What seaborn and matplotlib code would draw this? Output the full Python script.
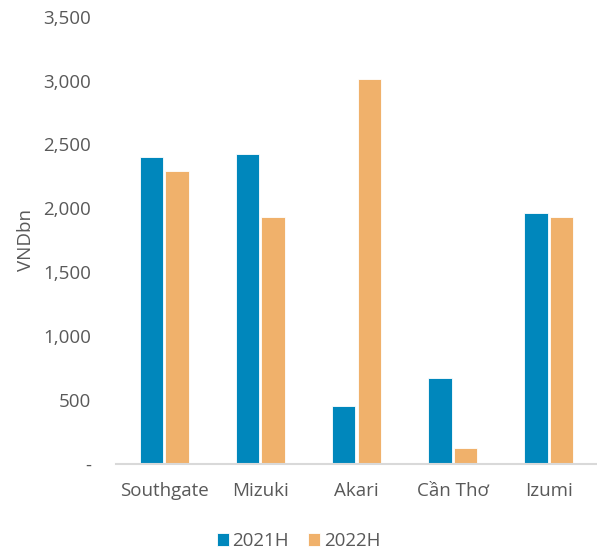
import pandas as pd
import matplotlib.pyplot as plt
import seaborn as sns
from matplotlib.ticker import FuncFormatter

projects = ['Southgate', 'Mizuki', 'Akari', 'Cần Thơ', 'Izumi']
h2021 = [2400, 2425, 455, 670, 1965]
h2022 = [2290, 1935, 3010, 125, 1935]
series = ['2021H', '2022H']
colors = ['#0087BC', '#F0B16B']

df = pd.DataFrame({
    'project': projects * 2,
    'value': h2021 + h2022,
    'period': [series[0]] * len(projects) + [series[1]] * len(projects),
})

sns.set_style('white')
plt.rcParams['font.family'] = ['Open Sans', 'DejaVu Sans']
fs = 13.5
txt = '#595959'

fig = plt.figure(figsize=(5.97, 5.49), dpi=100)
ax = fig.add_axes([0.1943, 0.1548, 0.8057, 0.8148])

sns.barplot(data=df, x='project', y='value', hue='period', palette=colors,
            width=0.53, gap=0.08, ax=ax, saturation=1,
            edgecolor='white', linewidth=0.6)

ax.set_xlim(-0.5, 4.5)
ax.set_ylim(0, 3500)
ax.set_yticks(range(0, 3501, 500))
ax.yaxis.set_major_formatter(FuncFormatter(lambda v, p: '-' if v == 0 else f'{int(v):,}'))

ax.set_xlabel('')
ax.set_ylabel('VNDbn', fontsize=fs, color=txt, labelpad=6)
ax.tick_params(axis='y', length=0, pad=18, labelsize=fs, labelcolor=txt)
ax.tick_params(axis='x', length=0, pad=13, labelsize=fs, labelcolor=txt)

for s in ['top', 'right', 'left']:
    ax.spines[s].set_visible(False)
ax.spines['bottom'].set_color('#D9D9D9')
ax.spines['bottom'].set_linewidth(1.5)

ax.legend_.remove()
handles, labels = ax.get_legend_handles_labels()
fig.legend(handles, labels, loc='center', bbox_to_anchor=(0.5, 0.0146), ncol=2,
           frameon=False, fontsize=fs, handlelength=0.65, handleheight=0.65,
           handletextpad=0.2, columnspacing=1.0, labelcolor=txt)

fig.savefig('out.png', dpi=100)
